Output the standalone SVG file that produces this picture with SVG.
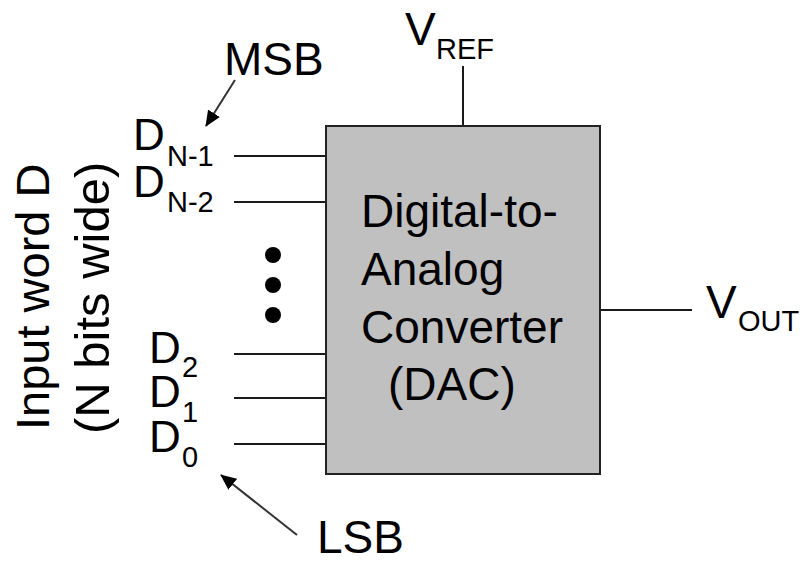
<svg xmlns="http://www.w3.org/2000/svg" width="808" height="562" viewBox="0 0 808 562">
<defs>
<marker id="ah" markerWidth="16" markerHeight="14" refX="15" refY="7" orient="auto" markerUnits="userSpaceOnUse">
<path d="M0,0 L16,7 L0,14 Z" fill="#000"/>
</marker>
<style>
text{font-family:"Liberation Sans",Arial,sans-serif;fill:#000}
.big{font-size:46px}
.lbl{font-size:44px}
.sub{font-size:29px}
.wire{stroke:#1a1a1a;stroke-width:2;fill:none}
.arrow{stroke:#333;stroke-width:2;fill:none;marker-end:url(#ah)}
</style>
</defs>
<rect width="808" height="562" fill="#fff"/>
<g id="connectors">
<line class="wire" x1="463" y1="66" x2="463" y2="126"/>
<line class="wire" x1="234" y1="156" x2="326" y2="156"/>
<line class="wire" x1="234" y1="202" x2="326" y2="202"/>
<line class="wire" x1="234" y1="354" x2="326" y2="354"/>
<line class="wire" x1="234" y1="398" x2="326" y2="398"/>
<line class="wire" x1="234" y1="444" x2="326" y2="444"/>
<line class="wire" x1="600" y1="310" x2="692" y2="310"/>
<line class="arrow" x1="235" y1="80" x2="206" y2="126"/>
<line class="arrow" x1="297" y1="535" x2="221" y2="475"/>
</g>
<g id="dac">
<rect x="326" y="126" width="274" height="348" fill="#c0c0c0" stroke="#222" stroke-width="2"/>
<text class="big" x="361" y="227">Digital-to-</text>
<text class="big" x="361" y="285">Analog</text>
<text class="big" x="361" y="343">Converter</text>
<text class="big" x="388" y="400">(DAC)</text>
</g>
<g id="vref"><text class="big" x="405" y="45">V<tspan class="sub" x="436" y="59">REF</tspan></text></g>
<g id="vout"><text class="big" x="706" y="318">V<tspan class="sub" x="738" y="331">OUT</tspan></text></g>
<g id="msb"><text class="big" x="224" y="75">MSB</text></g>
<g id="lsb"><text class="big" x="317" y="553">LSB</text></g>
<g id="dn1"><text class="lbl" x="133" y="150">D<tspan class="sub" x="167" y="166">N-1</tspan></text></g>
<g id="dn2"><text class="lbl" x="133" y="197">D<tspan class="sub" x="167" y="212">N-2</tspan></text></g>
<g id="d2"><text class="lbl" x="149" y="363">D<tspan class="sub" x="182" y="377">2</tspan></text></g>
<g id="d1"><text class="lbl" x="149" y="407">D<tspan class="sub" x="182" y="422">1</tspan></text></g>
<g id="d0"><text class="lbl" x="149" y="452">D<tspan class="sub" x="182" y="467">0</tspan></text></g>
<g id="dots">
<circle cx="273" cy="255" r="8" fill="#000"/>
<circle cx="273" cy="285" r="8" fill="#000"/>
<circle cx="273" cy="315" r="8" fill="#000"/>
</g>
<g id="input-word">
<text class="big" transform="translate(49,430) rotate(-90)" style="font-size:47px">Input word D</text>
<text class="big" transform="translate(109,434) rotate(-90)" style="font-size:49px">(N bits wide)</text>
</g>
</svg>
